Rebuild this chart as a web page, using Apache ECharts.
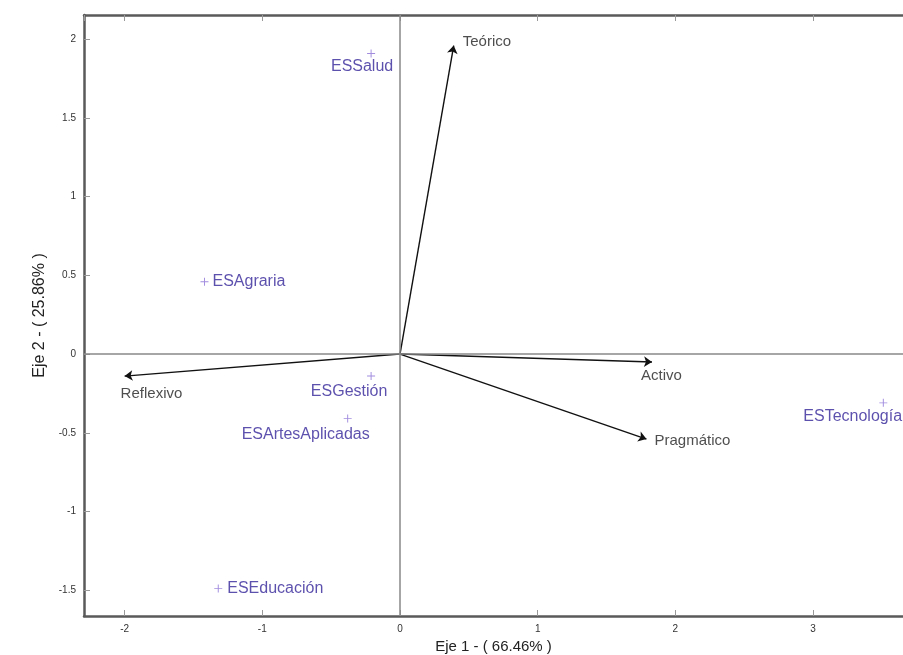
<!DOCTYPE html>
<html>
<head>
<meta charset="utf-8">
<script src="https://cdn.jsdelivr.net/npm/echarts@6/dist/echarts.min.js"></script>
<style>html,body{margin:0;padding:0;background:#fff}#c{width:903px;height:655px}</style>
</head>
<body>
<div id="c"></div>
<script>
// ---- data ----
const pointNames = ['ESSalud', 'ESAgraria', 'ESGestión', 'ESArtesAplicadas', 'ESEducación', 'ESTecnología'];
const pointX = [-0.21, -1.42, -0.21, -0.38, -1.32, 3.51];
const pointY = [1.91, 0.46, -0.14, -0.41, -1.49, -0.31];
const varNames = ['Teórico', 'Reflexivo', 'Activo', 'Pragmático'];
const varX = [0.39, -2.00, 1.83, 1.79];
const varY = [1.96, -0.14, -0.05, -0.54];
const xTicks = [-2, -1, 0, 1, 2, 3];
const yTicks = [-1.5, -1, -0.5, 0, 0.5, 1, 1.5, 2];
const xTitle = 'Eje 1 - ( 66.46% )';
const yTitle = 'Eje 2 - ( 25.86% )';

// ---- styling (label placement relative to marks, px) ----
const pointLabelStyle = {
  'ESSalud': {align: 'center', offset: [-9, 13]},
  'ESAgraria': {align: 'left', offset: [8, 0]},
  'ESGestión': {align: 'center', offset: [-22, 15]},
  'ESArtesAplicadas': {align: 'center', offset: [-42, 16]},
  'ESEducación': {align: 'left', offset: [9, 0]},
  'ESTecnología': {align: 'left', offset: [-80, 14]}
};
const varLabelStyle = {
  'Teórico': {align: 'left', offset: [9, -4]},
  'Reflexivo': {align: 'left', offset: [-4, 18]},
  'Activo': {align: 'left', offset: [-11, 14]},
  'Pragmático': {align: 'left', offset: [8, 2]}
};

const FONT = "'Liberation Sans Narrow', 'Liberation Sans', Arial, sans-serif";
const frameColor = '#5a5a5a';
const xMin = -2.295, xMax = 3.653, yMin = -1.664, yMax = 2.154;

function tickFmt(list) {
  return function (v) {
    for (const t of list) if (Math.abs(t - v) < 1e-6) return String(t);
    return '';
  };
}

const plusPath = 'path://M4.4,0h1.2v4.4h4.4v1.2h-4.4v4.4h-1.2v-4.4h-4.4v-1.2h4.4z';

const option = {
  animation: false,
  backgroundColor: '#fff',
  grid: {left: 84, right: 0, top: 15, bottom: 39, containLabel: false, outerBoundsMode: 'none'},
  xAxis: [{
    type: 'value', min: xMin, max: xMax, minInterval: 1, maxInterval: 1,
    position: 'bottom',
    name: xTitle, nameLocation: 'middle', nameGap: 18,
    nameTextStyle: {fontFamily: FONT, fontSize: 15, color: '#222'},
    axisLine: {show: true, onZero: false, lineStyle: {color: frameColor, width: 2.5}},
    axisTick: {show: true, inside: true, length: 6, lineStyle: {color: '#999'}},
    axisLabel: {fontFamily: FONT, fontSize: 10, color: '#333', margin: 8, formatter: tickFmt(xTicks), showMinLabel: false, showMaxLabel: false},
    splitLine: {show: false}
  }, {
    type: 'value', min: xMin, max: xMax, minInterval: 1, maxInterval: 1,
    position: 'top',
    axisLine: {show: true, onZero: false, lineStyle: {color: frameColor, width: 2.5}},
    axisTick: {show: true, inside: true, length: 6, lineStyle: {color: '#999'}},
    axisLabel: {show: false},
    splitLine: {show: false}
  }],
  yAxis: [{
    type: 'value', min: yMin, max: yMax, minInterval: 0.5, maxInterval: 0.5,
    position: 'left',
    name: yTitle, nameLocation: 'middle', nameGap: 31,
    nameTextStyle: {fontFamily: FONT, fontSize: 16, color: '#222'},
    axisLine: {show: true, onZero: false, lineStyle: {color: frameColor, width: 2.5}},
    axisTick: {show: true, inside: true, length: 6, lineStyle: {color: '#999'}},
    axisLabel: {fontFamily: FONT, fontSize: 10, color: '#333', margin: 8, formatter: tickFmt(yTicks), showMinLabel: false, showMaxLabel: false},
    splitLine: {show: false}
  }],
  series: [
    {
      type: 'scatter', xAxisIndex: 0, yAxisIndex: 0,
      symbol: 'none', data: [],
      silent: true,
      markLine: {
        silent: true, symbol: ['none', 'none'], label: {show: false},
        lineStyle: {color: '#888', width: 1.5, type: 'solid'},
        data: [{xAxis: 0}, {yAxis: 0}]
      }
    },
    {
      type: 'lines', coordinateSystem: 'cartesian2d', xAxisIndex: 0, yAxisIndex: 0,
      symbol: ['none', 'arrow'], symbolSize: 8,
      lineStyle: {color: '#111', width: 1.4, opacity: 1, curveness: 0},
      data: varNames.map((n, i) => ({coords: [[0, 0], [varX[i], varY[i]]]}))
    },
    {
      type: 'scatter', xAxisIndex: 0, yAxisIndex: 0,
      symbol: 'circle', symbolSize: 1, itemStyle: {color: 'rgba(0,0,0,0)'},
      data: varNames.map((n, i) => ({
        name: n, value: [varX[i], varY[i]],
        label: {
          show: true, position: 'inside', formatter: n,
          align: varLabelStyle[n].align, verticalAlign: 'middle', offset: varLabelStyle[n].offset,
          fontFamily: FONT, fontSize: 15, color: '#222'
        }
      }))
    },
    {
      type: 'scatter', xAxisIndex: 0, yAxisIndex: 0,
      symbol: plusPath, symbolSize: 8,
      itemStyle: {color: '#8a6fd6'},
      data: pointNames.map((n, i) => ({
        name: n, value: [pointX[i], pointY[i]],
        label: {
          show: true, position: 'inside', formatter: n,
          align: pointLabelStyle[n].align, verticalAlign: 'middle', offset: pointLabelStyle[n].offset,
          fontFamily: FONT, fontSize: 16, color: '#35259a'
        }
      }))
    }
  ]
};

const chart = echarts.init(document.getElementById('c'), null, {renderer: 'canvas'});
chart.setOption(option);
</script>
</body>
</html>
